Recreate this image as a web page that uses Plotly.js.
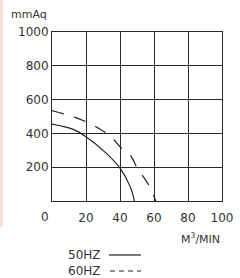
<!DOCTYPE html>
<html><head><meta charset="utf-8">
<script src="https://cdn.plot.ly/plotly-3.0.1.min.js"></script>
<style>html,body{margin:0;padding:0;background:#fff;}#c{width:240px;height:278px;}</style>
</head><body><div id="c"></div>
<script>
const flow50 = [0, 12.5, 20, 32, 40, 46, 48.5];
const pres50 = [455, 424, 380, 282, 195, 85, 0];
const flow60 = [0, 8, 15, 22, 29, 35, 40, 46, 50, 54, 58, 61];
const pres60 = [535, 512, 489, 460, 420, 377, 321, 272, 199, 140, 75, 0];
const xTicks = [20, 40, 60, 80, 100];
const yTicks = [200, 400, 600, 800, 1000];
const seriesNames = ['50HZ', '60HZ'];
const yUnit = 'mmAq';
const xUnit = 'M<sup>3</sup>/MIN';

const txt = '#333';
const fnt = {family: 'DejaVu Sans, sans-serif', size: 12, color: txt};
const traces = [
  {x: flow50, y: pres50, mode: 'lines', name: seriesNames[0], line: {color: '#222', width: 1.2, shape: 'spline'}, showlegend: false, hoverinfo: 'skip'},
  {x: flow60, y: pres60, mode: 'lines', name: seriesNames[1], line: {color: '#222', width: 1.2, shape: 'spline', dash: '12px,11px'}, showlegend: false, hoverinfo: 'skip'}
];
const layout = {
  width: 240, height: 278,
  margin: {l: 52, r: 18, t: 32, b: 77},
  paper_bgcolor: '#fff', plot_bgcolor: '#fff',
  font: fnt,
  xaxis: {range: [0, 100], tickvals: xTicks, ticktext: xTicks.map(String), showgrid: true, gridcolor: '#2a2a2a', gridwidth: 1,
          zeroline: false, showline: true, linecolor: '#2a2a2a', linewidth: 1, mirror: true, ticks: '', ticklabelstandoff: 6, tickfont: fnt, fixedrange: true},
  yaxis: {range: [0, 1000], tickvals: yTicks, ticktext: yTicks.map(String), showgrid: true, gridcolor: '#2a2a2a', gridwidth: 1,
          zeroline: false, showline: true, linecolor: '#2a2a2a', linewidth: 1, mirror: true, ticks: '', ticklabelstandoff: 0, tickfont: fnt, fixedrange: true},
  annotations: [
    {xref: 'paper', yref: 'paper', x: 0, y: 0, xshift: -7, yshift: -16, text: '0', showarrow: false, font: fnt, xanchor: 'center', yanchor: 'middle'},
    {xref: 'paper', yref: 'paper', x: 0, y: 1, xshift: -3, yshift: 18, text: yUnit, showarrow: false, font: {family: fnt.family, size: 11, color: txt}, xanchor: 'right', yanchor: 'middle'},
    {xref: 'paper', yref: 'paper', x: 1, y: 0, xshift: 0, yshift: -37, text: xUnit, showarrow: false, font: {family: fnt.family, size: 11, color: txt}, xanchor: 'right', yanchor: 'middle'},
    {xref: 'paper', yref: 'paper', x: 0, y: 0, xshift: 14, yshift: -54, text: seriesNames[0], showarrow: false, font: fnt, xanchor: 'left', yanchor: 'middle'},
    {xref: 'paper', yref: 'paper', x: 0, y: 0, xshift: 14, yshift: -70, text: seriesNames[1], showarrow: false, font: fnt, xanchor: 'left', yanchor: 'middle'}
  ],
  shapes: [
    {type: 'line', xref: 'paper', yref: 'paper', xsizemode: 'pixel', ysizemode: 'pixel', xanchor: 0, yanchor: 0,
     x0: 57, x1: 89, y0: -54, y1: -54, line: {color: '#222', width: 1.2}},
    {type: 'line', xref: 'paper', yref: 'paper', xsizemode: 'pixel', ysizemode: 'pixel', xanchor: 0, yanchor: 0,
     x0: 58, x1: 89, y0: -70, y1: -70, line: {color: '#222', width: 1.2, dash: '5px,4px'}},
    {type: 'rect', xref: 'paper', yref: 'paper', xsizemode: 'pixel', ysizemode: 'pixel', xanchor: 0, yanchor: 0,
     x0: -52, x1: -49, y0: -26, y1: 246, fillcolor: '#f7dede', line: {width: 0}, layer: 'below'}
  ]
};
Plotly.newPlot('c', traces, layout, {displayModeBar: false, staticPlot: true});
</script></body></html>
